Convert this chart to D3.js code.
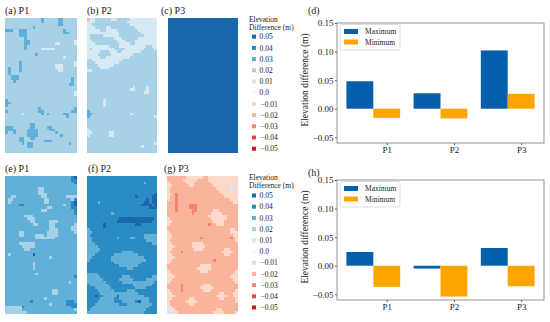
<!DOCTYPE html>
<html>
<head>
<meta charset="utf-8">
<script src="https://cdn.jsdelivr.net/npm/d3@7"></script>
<style>
  body { margin: 0; background: #fff; }
  svg text { font-family: "Liberation Serif", "DejaVu Serif", serif; fill: #1a1a1a; }
</style>
</head>
<body>
<div id="fig"></div>
<script>
// legend levels: one character per grid cell
const levelKeys   = ["5", "4", "3", "2", "1", "0", "a", "b", "c", "d", "e"];
const levelLabels = ["0.05", "0.04", "0.03", "0.02", "0.01", "0.0", "\u22120.01", "\u22120.02", "\u22120.03", "\u22120.04", "\u22120.05"];
const levelColors = ["#1968ae", "#2b8cc4", "#62afd8", "#a7d1e7", "#d5e9f3", "#f7f7f7",
                     "#fcd8c8", "#f9b49b", "#f3876d", "#e3494a", "#c8141f"];

// bar charts
const places     = ["P1", "P2", "P3"];
const maxTop     = [0.048, 0.027, 0.102];
const minTop     = [-0.016, -0.017, 0.026];
const maxBottom  = [0.024, -0.005, 0.031];
const minBottom  = [-0.037, -0.054, -0.036];
const yTicks     = [-0.05, 0.00, 0.05, 0.10, 0.15];
const seriesNames = ["Maximum", "Minimum"];

// (a) P1
const gridA = [
"22222222222223222223322222",
"22222222222223222223322222",
"22222222222222222223322222",
"22222222223222222222222222",
"33322333222222222222232222",
"22222333222222222222233222",
"22222333222222222222222222",
"22222223222222222222222222",
"22222223322222222222222221",
"22222223322222222211222221",
"22222223222222222222222222",
"22222223222221111122222222",
"22222222222222222222222222",
"22222222222322222222222222",
"22222222222222222222212222",
"22222222222222222222222222",
"22222322222222222222222221",
"22222322222222222211122221",
"23222322222222222211122222",
"23222322222222222221122222",
"23222222222222222222222222",
"22333222222222222222222222",
"22333222222222222222222232",
"22232222222222222222222232",
"22222222222222222222222332",
"22222222222222222222222222",
"22222222222222222222222222",
"22222222222222222222222221",
"22222222222222222222222221",
"22222222222222222222222222",
"32222222222222222222222222",
"33222222222222222222222222",
"32222222222222222222222222",
"22222222222232222222222223",
"32222222222233222222222233",
"22222212222223232222233222",
"22222222222222222222223222",
"22222222222222222222222222",
"22222222222222222222222222",
"22222222233222222222222222",
"33322222233222233222222222",
"33332222333322223322222222",
"32232222333322222232222222",
"22222222333322222222322222",
"22222332233222222222222222",
"22222332222222333222222222",
"22222232332222222222222322",
"22222222332222222222222222",
"22222222222222222222222222",
"22222222222222222222222222"
];

// (b) P2
const gridB = [
"b1122222211222221111111111",
"11122222222222211111111111",
"11222222222222221111111111",
"11122221122222222211111111",
"11111221111222222221111111",
"11111111111122222222111111",
"12222211111122222222211111",
"12222222221112222221111111",
"11222222222111222211111111",
"11122222222211112211111111",
"11111111222211111111112211",
"12111111112222111111122221",
"11111222111221111111222222",
"11112222211111111222222222",
"11111221111111112222222222",
"22111111111112222222222222",
"22211111111122222222222222",
"22221111112222222222222222",
"22222111222222222222222222",
"11222222222222222222222222",
"22222222222222222222222222",
"22222222222222222222222222",
"22222222222222222222222222",
"22222222222222222222222222",
"22222222222222222222222222",
"22222222222222222122221222",
"22222222222222221122221222",
"22222222222222222222211222",
"22222222222222222222222222",
"22222222222222222222222222",
"22222212222222222222222222",
"22222212222222222222222222",
"22222212222222222222222222",
"22222222222222222222222222",
"32222222222222222222222222",
"33222222222222221222222222",
"32222222222222222222222221",
"22222222222222222222222222",
"22222222222222222222222222",
"22222222222222222222222222",
"22222222222222222222222222",
"12222222222222222222222222",
"11222222112222222222222222",
"12222222112222222222222222",
"22222222222222222222222222",
"22222222222222222222222222",
"22222222222222222222222221",
"22222222222222222222122222",
"22222222222222222222222222",
"22222222222222222222222222"
];

// (c) P3
const gridC = [
"55555555555555555555555555",
"55555555555555555555555555",
"55555555555555555555555555",
"55555555555555555555555555",
"55555555555555555555555555",
"55555555555555555555555555",
"55555555555555555555555555",
"55555555555555555555555555",
"55555555555555555555555555",
"55555555555555555555555555",
"55555555555555555555555555",
"55555555555555555555555555",
"55555555555555555555555555",
"55555555555555555555555555",
"55555555555555555555555555",
"55555555555555555555555555",
"55555555555555555555555555",
"55555555555555555555555555",
"55555555555555555555555555",
"55555555555555555555555555",
"55555555555555555555555555",
"55555555555555555555555555",
"55555555555555555555555555",
"55555555555555555555555555",
"55555555555555555555555555",
"55555555555555555555555555",
"55555555555555555555555555",
"55555555555555555555555555",
"55555555555555555555555555",
"55555555555555555555555555",
"55555555555555555555555555",
"55555555555555555555555555",
"55555555555555555555555555",
"55555555555555555555555555",
"55555555555555555555555555",
"55555555555555555555555555",
"55555555555555555555555555",
"55555555555555555555555555",
"55555555555555555555555555",
"55555555555555555555555555",
"55555555555555555555555555",
"55555555555555555555555555",
"55555555555555555555555555",
"55555555555555555555555555",
"55555555555555555555555555",
"55555555555555555555555555",
"55555555555555555555555555",
"55555555555555555555555555",
"55555555555555555555555555",
"55555555555555555555555555"
];

// (e) P1
const gridE = [
"33333333333333333333333345",
"33333333333333333333333344",
"33333333333333333333333334",
"33333333333333333333333333",
"33333333333322333333333333",
"33333333333322333333333333",
"33333333333322233333333333",
"33223333333332233333332222",
"32233333333333223333333324",
"32333333333333223333333345",
"33333443333333333333323345",
"33333333333333322333333344",
"33333333333332233333333334",
"33333333333333333333333334",
"33333332223333333333333333",
"33333333222333333333333333",
"33333333322333332223333333",
"33333333332233332233333332",
"33333333333333332233333322",
"33333333333333332223333322",
"33333223333333322223333332",
"33333223333222322223333333",
"33333333333222222233333333",
"33333333333333333333333333",
"33333222222333333333333333",
"33333322222333333333333333",
"33333332233333333333333333",
"33333333333333333333333333",
"32333333335333333333333333",
"33333333333333332333333333",
"33333333333333333333333333",
"33333333332333333333333333",
"33333333332333333333333333",
"33333333332333333333333333",
"33333333333333333333333333",
"33333333333233333333333333",
"33333333333333333333333334",
"33333333333333333333333333",
"33333333333333333333333233",
"33333333333333333333333333",
"33333333333333333333333333",
"33333333333333333223333333",
"33333333333333333223333333",
"33333333333333333333333333",
"33333333333333233333333333",
"33333333343333333333334443",
"33333333333333332333334444",
"22222243333333333333333344",
"22222233333333333333333332",
"22222222333333333333333333"
];

// (f) P2
const gridF = [
"44444444444444444444444444",
"44444444444444444444444444",
"44444444444444444444434444",
"44444444444444444444444444",
"44444444444444444444444444",
"44444444444444444444444444",
"44444444444444444444444445",
"44444444444444444454444455",
"44444444444444444444445455",
"44443444444444444444455455",
"44444444444444444444555545",
"44444444444444444444444555",
"44444444444444444444444444",
"44444444434444444444444444",
"44444444444444444444444444",
"44444444444455555555555554",
"44444444444555555555555544",
"44444454444444444455444444",
"44444454444444444444444444",
"34444444444444444444444444",
"33444444444444444444444444",
"34444444444444444444433333",
"33444444444344443344433333",
"33444444444444444444443333",
"33344444444444444444444433",
"33334444444444444444444444",
"33333444444444444444444444",
"33334444444443333444444444",
"33344444443333333334444444",
"33444444433333333333344444",
"34444444433333333333334444",
"44444444443333333333444444",
"44444444444433333334444444",
"44444444444444433444444444",
"44444444444444444444444444",
"33334444444444444444444444",
"33333444444443334444444433",
"33333344444433333444443333",
"33333334444443333333333334",
"43333333444444444333333344",
"44433333344444444433334444",
"44443333334444433344444444",
"44444333333333333334444444",
"44454433333533333333344444",
"44444333334433333333333444",
"44443333334443333345333444",
"44433333333344433333333344",
"44333333333333333333333444",
"43333333333333333333334444",
"33333333333333333333344444"
];

// (g) P3
const gridG = [
"bbbbbbbaaaaaabbaaaaaaaaaaa",
"bbbbbbaaaaabbbbaaaaaaaaaaa",
"abbbbbbaaabbbbbbaaaaaaaaaa",
"aabbbbbbaabbbbbbbaaaaaa1aa",
"abbbbbbbbbbbbbbbbbaaaaa11a",
"abbbbbbbbbbbbbbbbbbaaaa1aa",
"aabcbbbbbbbbbbbbbbbbaaaaaa",
"abbcbbbbbbbbbbbbbbbbbaaaaa",
"abbcbbbbbbbbbbbbbbbbbbbaaa",
"bbbcbbbbbbbbbbbbbbbbbbbbaa",
"bbbcbbbbcccbbbbbbbbbbbbbbb",
"bbbcbbbbcccbbbbbbbbbbbbbbb",
"bbbcbbbbbccbbbbbbaabbbbbbb",
"bbbbbbbbbcbbbbbbaaaabbbbbb",
"bbbbbbbbbbbbbbbaaaaaaabbbb",
"abbbbbbbbbbbbbbbaaaaaabbbb",
"aabbbbbbbbbbbbbbbaaaabbbbb",
"abbbbbbbbbbbbbbcbbaaabbbbb",
"bbbbbbbbbbbbbbbbbbbbbbbbbb",
"bbbbbbbbbbbbbbbbbbbbbbbaab",
"abbbbbbbbbbbbbbbbbbbbbbaaa",
"aabbbbbbbbbbbbbbbbbbbbbbaa",
"aabbbbbbbbbbcbbbbbbbbbbcba",
"abbbbbbbbbbbbbbbbbbbbbbbba",
"aabbbbbbbaaaabbbbbbbbbbbbb",
"aaabbbbbbaaaaabbbbbbbbbbbb",
"aabbbbbbbbaaabbbbbbbbaabbb",
"abbbbcbbbbbbbbbbbbbbaaaabb",
"aabbbbbbbbbbbbbbbbbbbaabbb",
"aaabbbbbbbbbbbbbbbbbbbbbbb",
"aabbbbbbbbbbbbbbbcbbbbbbbb",
"abbbbbbbbbbbbbbbbbbbbbbbbb",
"bbbbbbbbbbbbaaaabbbbbbbbbb",
"bbbbbbbbbbbaaaaabbbbbbbbbb",
"abbbbbbbbbbbaaabbbbbbbbbba",
"aabbbbbbbbbbbbbbbbbbbbbbaa",
"aaabbbbbbbbbbbbbbbbbbbbaaa",
"aabbbbbbbbbbbbbbbbbbbbbbaa",
"abbbbbbbbbbbbbbbbbbbbbbbba",
"bbbbbcbbbbbbbaaabbbbbbbbbb",
"bbbbbcbbbbbbaaaaabbbbbbbbb",
"abbbbcbbbbbbbaaabbbbbbbbba",
"aabbbbbbbbbbbbbbbbbaabbbaa",
"aaabbbbbbbbbbbbbbbaaaabbaa",
"aabbbbbbaabbbbbbbbbaabbbba",
"abbbbbbaaaabbbbbbbbbbbbbba",
"abbbbbbbaabbbbbbbbbbbbbbbb",
"1abbbbbbbbbbbbbbbbbbbbbbbb",
"11abbbbbbbbbbbbbbbaabbbbbb",
"11aabbbbbbbbbbbbbaaaabbbb1"
];

const color = d3.scaleOrdinal().domain(levelKeys).range(levelColors);

const svg = d3.select("#fig")
    .append("svg")
    .attr("width", 550)
    .attr("height", 322)
    .style("display", "block");

svg.append("rect").attr("width", 550).attr("height", 322).attr("fill", "#fff");

function drawMap(grid, x0, y0, w, h, title, tx) {
    let x = d3.scaleBand().domain(d3.range(grid[0].length)).range([x0, x0 + w]);
    let y = d3.scaleBand().domain(d3.range(grid.length)).range([y0, y0 + h]);

    let cells = [];
    grid.forEach(function(row, i) {
        row.split("").forEach(function(k, j) { cells.push({i: i, j: j, k: k}); });
    });

    svg.append("g")
        .attr("shape-rendering", "crispEdges")
        .selectAll("rect")
        .data(cells)
        .enter()
        .append("rect")
        .attr("x", function(d) { return x(d.j); })
        .attr("y", function(d) { return y(d.i); })
        .attr("width", x.bandwidth() + 0.3)
        .attr("height", y.bandwidth() + 0.3)
        .attr("fill", function(d) { return color(d.k); });

    svg.append("text")
        .attr("x", tx)
        .attr("y", y0 - 4)
        .style("font-size", "10px")
        .text(title);
}

function drawLegend(x0, yTitle, yFirst) {
    let g = svg.append("g").style("font-size", "7.5px");
    g.append("text").attr("x", x0).attr("y", yTitle).text("Elevation");
    g.append("text").attr("x", x0).attr("y", yTitle + 8).text("Difference (m)");

    let y = d3.scalePoint().domain(levelKeys).range([yFirst, yFirst + 112]);
    g.selectAll("rect.sw")
        .data(levelKeys)
        .enter()
        .append("rect")
        .attr("x", x0 + 3)
        .attr("y", function(d) { return y(d) - 2; })
        .attr("width", 4)
        .attr("height", 4)
        .attr("fill", function(d) { return color(d); });
    g.selectAll("text.lab")
        .data(levelKeys)
        .enter()
        .append("text")
        .attr("x", function(d, i) { return i > 5 ? x0 + 11.5 : x0 + 10.5; })
        .attr("y", function(d) { return y(d); })
        .attr("dy", "0.35em")
        .text(function(d, i) { return levelLabels[i]; });
}

function drawBars(top, maxVals, minVals, label, labelY) {
    const left = 337, right = 544, bottom = top + 120;
    let x = d3.scaleLinear().domain([-0.74, 2.34]).range([left, right]);
    let y = d3.scaleLinear().domain([-0.06, 0.15]).range([bottom, top]);
    let bw = x(0.4) - x(0);

    let g = svg.append("g");

    // Y axis
    g.append("g")
        .attr("transform", "translate(" + left + ",0)")
        .call(d3.axisLeft(y).tickValues(yTicks).tickFormat(d3.format(".2f")).tickSize(2).tickPadding(1.5))
        .call(function(a) { a.select(".domain").remove(); })
        .call(function(a) {
            a.selectAll("text").style("font-size", "9px").style("font-family", "Liberation Serif");
            a.selectAll("line").attr("stroke", "#555");
        });

    // X axis
    g.append("g")
        .attr("transform", "translate(0," + bottom + ")")
        .call(d3.axisBottom(x).tickValues([0, 1, 2]).tickFormat(function(d) { return places[d]; }).tickSize(2).tickPadding(1.5))
        .call(function(a) { a.select(".domain").remove(); })
        .call(function(a) {
            a.selectAll("text").style("font-size", "9px").style("font-family", "Liberation Serif");
            a.selectAll("line").attr("stroke", "#555");
        });

    // Bars
    g.selectAll("rect.max")
        .data(maxVals)
        .enter()
        .append("rect")
        .attr("x", function(d, i) { return x(i - 0.6); })
        .attr("y", function(d) { return y(Math.max(d, 0)); })
        .attr("width", bw)
        .attr("height", function(d) { return Math.abs(y(d) - y(0)); })
        .attr("fill", "#065fab");
    g.selectAll("rect.min")
        .data(minVals)
        .enter()
        .append("rect")
        .attr("x", function(d, i) { return x(i - 0.2); })
        .attr("y", function(d) { return y(Math.max(d, 0)); })
        .attr("width", bw)
        .attr("height", function(d) { return Math.abs(y(d) - y(0)); })
        .attr("fill", "#ffa500");

    // frame
    g.append("rect")
        .attr("x", left).attr("y", top)
        .attr("width", right - left).attr("height", bottom - top)
        .attr("fill", "none").attr("stroke", "#888").attr("stroke-width", 0.9);

    // legend
    let lg = g.append("g").attr("transform", "translate(340," + (top + 1.5) + ")");
    lg.append("rect").attr("width", 60).attr("height", 25.5).attr("rx", 1.5)
        .attr("fill", "#fff").attr("stroke", "#d0d0d0").attr("stroke-width", 0.7);
    let sy = d3.scalePoint().domain(seriesNames).range([7, 17.5]);
    lg.selectAll("rect.sw")
        .data(seriesNames)
        .enter()
        .append("rect")
        .attr("x", 4)
        .attr("y", function(d) { return sy(d) - 2.5; })
        .attr("width", 14)
        .attr("height", 5)
        .attr("fill", function(d, i) { return i == 0 ? "#065fab" : "#ffa500"; });
    lg.selectAll("text")
        .data(seriesNames)
        .enter()
        .append("text")
        .attr("x", 25)
        .attr("y", function(d) { return sy(d); })
        .attr("dy", "0.35em")
        .style("font-size", "7.5px")
        .text(function(d) { return d; });

    // y label
    g.append("text")
        .attr("transform", "translate(308," + ((top + bottom) / 2 - 3) + ")rotate(-90)")
        .attr("text-anchor", "middle")
        .style("font-size", "9.5px")
        .text("Elevation difference (m)");

    g.append("text")
        .attr("x", 308)
        .attr("y", labelY)
        .style("font-size", "10px")
        .text(label);
}

// top row
drawMap(gridA, 5, 18, 72, 135, "(a) P1", 5);
drawMap(gridB, 87, 18, 70, 135, "(b) P2", 87);
drawMap(gridC, 168, 18, 70, 135, "(c) P3", 161);
drawLegend(249, 21.5, 36.7);
drawBars(23, maxTop, minTop, "(d)", 13.5);

// bottom row
drawMap(gridE, 5, 176, 72, 138, "(e) P1", 5);
drawMap(gridF, 87, 176, 70, 138, "(f) P2", 88);
drawMap(gridG, 167, 176, 71, 138, "(g) P3", 164);
drawLegend(249, 179.5, 195.5);
drawBars(180, maxBottom, minBottom, "(h)", 175.5);
</script>
</body>
</html>
